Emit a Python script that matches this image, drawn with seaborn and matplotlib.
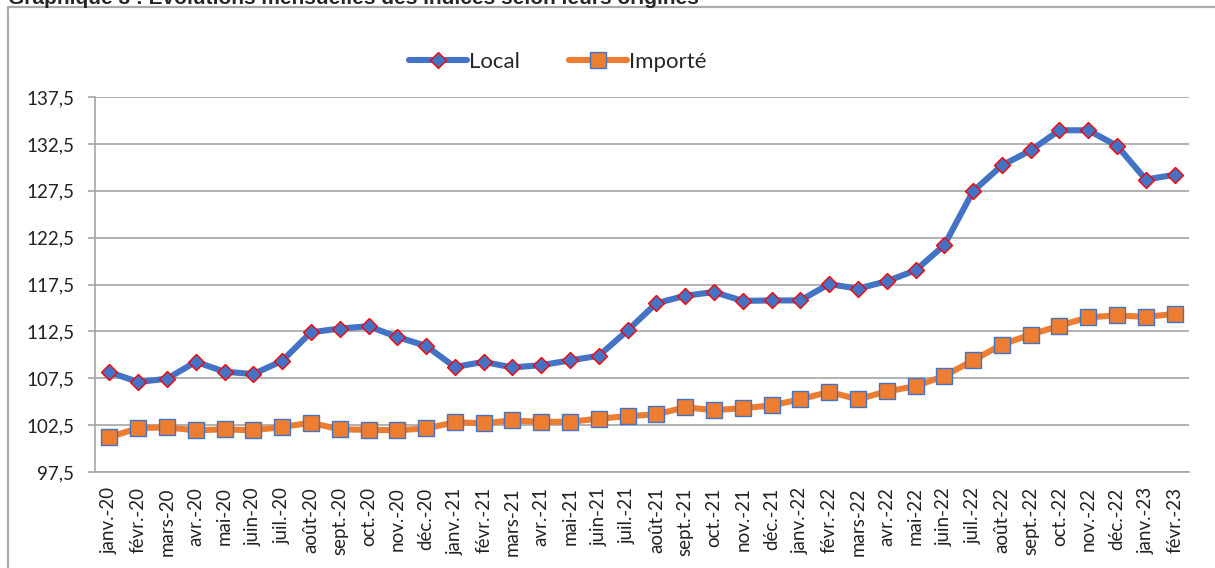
import pandas as pd
import seaborn as sns
import matplotlib.pyplot as plt
from matplotlib.patches import Rectangle
from matplotlib.ticker import FixedLocator, FuncFormatter

# Data (indices par origine)
mois = ["janv.-20", "févr.-20", "mars-20", "avr.-20", "mai-20", "juin-20",
        "juil.-20", "août-20", "sept.-20", "oct.-20", "nov.-20", "déc.-20",
        "janv.-21", "févr.-21", "mars-21", "avr.-21", "mai-21", "juin-21",
        "juil.-21", "août-21", "sept.-21", "oct.-21", "nov.-21", "déc.-21",
        "janv.-22", "févr.-22", "mars-22", "avr.-22", "mai-22", "juin-22",
        "juil.-22", "août-22", "sept.-22", "oct.-22", "nov.-22", "déc.-22",
        "janv.-23", "févr.-23"]

local = [108.15, 107.1, 107.45, 109.25, 108.2, 107.95, 109.35, 112.4, 112.8, 113.05,
         111.9, 110.95, 108.7, 109.25, 108.65, 108.9, 109.4, 109.9, 112.6, 115.5,
         116.3, 116.7, 115.75, 115.8, 115.8, 117.55, 117.05, 117.85, 119.0, 121.7,
         127.45, 130.2, 131.8, 133.95, 133.95, 132.3, 128.7, 129.2]

importe = [101.2, 102.2, 102.25, 101.95, 102.05, 101.95, 102.3, 102.75, 102.05, 102.0,
           101.95, 102.15, 102.8, 102.7, 103.0, 102.85, 102.85, 103.2, 103.45, 103.65,
           104.4, 104.1, 104.3, 104.6, 105.25, 106.05, 105.25, 106.1, 106.65, 107.75,
           109.4, 111.1, 112.15, 113.1, 114.0, 114.2, 114.05, 114.35]

y_ticks = [97.5, 102.5, 107.5, 112.5, 117.5, 122.5, 127.5, 132.5, 137.5]

titre = "Graphique 3 : Evolutions mensuelles des indices selon leurs origines"

df = pd.DataFrame({"mois": mois, "Local": local, "Importé": importe})

sns.set_style("white")
plt.rcParams["font.family"] = ["Lato", "DejaVu Sans"]

fig = plt.figure(figsize=(12.15, 5.68), dpi=100)
ax = fig.add_axes([95 / 1215, 1 - 472 / 568, (1189 - 95) / 1215, (472 - 97) / 568])

grey = "#A6A6A6"
ax.set_ylim(97.5, 137.5)
ax.yaxis.set_major_locator(FixedLocator(y_ticks))
ax.yaxis.set_major_formatter(FuncFormatter(lambda v, p: f"{v:.1f}".replace(".", ",")))
ax.grid(axis="y", color=grey, linewidth=1.2)
ax.set_axisbelow(True)

sns.lineplot(data=df, x="mois", y="Local", ax=ax, sort=False, color="#4472C4",
             linewidth=4.4, marker="D", markersize=8.2, markerfacecolor="#4472C4",
             markeredgecolor="#FF0000", markeredgewidth=1.0, label="Local",
             solid_capstyle="round")
sns.lineplot(data=df, x="mois", y="Importé", ax=ax, sort=False, color="#ED7D31",
             linewidth=4.4, marker="s", markersize=11.5, markerfacecolor="#ED7D31",
             markeredgecolor="#4472C4", markeredgewidth=1.0, label="Importé",
             solid_capstyle="round")

ax.set_xlim(-0.5, len(mois) - 0.5)
ax.set_xlabel("")
ax.set_ylabel("")
ax.set_xticks(range(len(mois)))
ax.set_xticklabels(mois, rotation=90)
ax.set_xticks([i - 0.5 for i in range(len(mois) + 1)], minor=True)
ax.tick_params(axis="x", which="major", length=0, pad=11, labelsize=13.5, colors="#222222")
ax.tick_params(axis="x", which="minor", length=4, width=1, color=grey, direction="out")
ax.tick_params(axis="y", which="major", length=5, width=1.2, color=grey, pad=10,
               labelsize=13.5, labelcolor="#222222", left=True)

for side in ["top", "right"]:
    ax.spines[side].set_visible(False)
ax.spines["left"].set_color(grey)
ax.spines["bottom"].set_color(grey)
ax.spines["left"].set_linewidth(1.2)
ax.spines["bottom"].set_linewidth(1.2)

handles, labels = ax.get_legend_handles_labels()
ax.get_legend().remove()
fig.legend(handles, labels, loc="center", bbox_to_anchor=(558 / 1215, 1 - 62 / 568),
           ncol=2, frameon=False, fontsize=16, handlelength=2.6, handletextpad=0.1,
           columnspacing=2.2, numpoints=1)

# outer frame of the chart area
fig.patches.append(Rectangle((8 / 1215, -0.05), 1.1, 1 - 7 / 568 + 0.05,
                             transform=fig.transFigure, fill=False,
                             edgecolor="#ABABAB", linewidth=1.6))

fig.text(8 / 1215, 1 - 4 / 568, titre, fontsize=15, fontweight="bold",
         family=["Liberation Sans", "DejaVu Sans"], va="baseline", ha="left")

fig.savefig("out.png", dpi=100)
